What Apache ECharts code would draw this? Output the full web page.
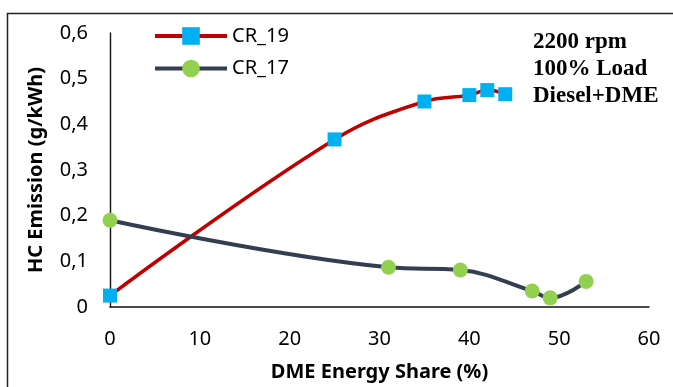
<!DOCTYPE html>
<html>
<head>
<meta charset="utf-8">
<script src="https://cdn.jsdelivr.net/npm/echarts@6/dist/echarts.min.js"></script>
<style>
html,body{margin:0;padding:0;background:#fff;}
#chart{width:673px;height:387px;}
</style>
</head>
<body>
<div id="chart"></div>
<script>
// Data
const cr19X = [0, 25, 35, 40, 42, 44];
const cr19Y = [0.025, 0.367, 0.450, 0.464, 0.475, 0.466];
const cr17X = [0, 31, 39, 47, 49, 53];
const cr17Y = [0.190, 0.087, 0.081, 0.035, 0.020, 0.056];
const xTicks = [0, 10, 20, 30, 40, 50, 60];
const yTicks = ['0', '0,1', '0,2', '0,3', '0,4', '0,5', '0,6'];
const seriesNames = ['CR_19', 'CR_17'];
const noteLines = ['2200 rpm', '100% Load', 'Diesel+DME'];

const pairs = (xs, ys) => xs.map((x, i) => [x, ys[i]]);

const chart = echarts.init(document.getElementById('chart'), null, {renderer: 'canvas'});
const font = '"Noto Sans", sans-serif';
chart.setOption({
  animation: false,
  backgroundColor: '#fff',
  grid: {left: 110, right: 24, top: 33, bottom: 76, containLabel: false},
  xAxis: {
    type: 'value', min: 0, max: 60, interval: 10,
    name: 'DME Energy Share (%)', nameLocation: 'middle', nameGap: 55,
    nameTextStyle: {fontFamily: font, fontWeight: 'bold', fontSize: 20, color: '#000'},
    axisLine: {show: true, lineStyle: {color: '#111', width: 1.6}},
    axisTick: {show: false},
    splitLine: {show: false},
    axisLabel: {fontFamily: font, fontSize: 20, color: '#000', margin: 22,
      formatter: v => String(xTicks[Math.round(v / 10)])}
  },
  yAxis: {
    type: 'value', min: 0, max: 0.6, interval: 0.1,
    name: 'HC Emission (g/kWh)', nameLocation: 'middle', nameGap: 64,
    nameTextStyle: {fontFamily: font, fontWeight: 'bold', fontSize: 20, color: '#000'},
    axisLine: {show: true, lineStyle: {color: '#111', width: 1.4}},
    axisTick: {show: false},
    splitLine: {show: false},
    axisLabel: {fontFamily: font, fontSize: 20, color: '#000', margin: 22,
      formatter: v => yTicks[Math.round(v * 10)]}
  },
  legend: {
    left: 153, top: 26, orient: 'vertical', padding: 0,
    itemWidth: 72, itemHeight: 22, itemGap: 12.5,
    lineStyle: {width: 4},
    textStyle: {fontFamily: font, fontSize: 20, color: '#000'},
    data: seriesNames
  },
  series: [
    {
      name: seriesNames[0], type: 'line', smooth: 0.4,
      data: pairs(cr19X, cr19Y),
      symbol: 'rect', symbolSize: 14,
      lineStyle: {color: '#C00000', width: 3.5},
      itemStyle: {color: '#00B0F0'}
    },
    {
      name: seriesNames[1], type: 'line', smooth: 0.4,
      data: pairs(cr17X, cr17Y),
      symbol: 'circle', symbolSize: 15,
      lineStyle: {color: '#333F50', width: 4},
      itemStyle: {color: '#92D050'}
    }
  ],
  graphic: [
    {type: 'rect', shape: {x: 7.5, y: 13.5, width: 800, height: 500},
     style: {fill: 'none', stroke: '#222', lineWidth: 1.5}, silent: true},
    {type: 'text', left: 533, top: 29,
     style: {text: noteLines.join('\n'), font: 'bold 23px "Liberation Serif", serif',
       fill: '#000', lineHeight: 27}}
  ]
});
</script>
</body>
</html>
